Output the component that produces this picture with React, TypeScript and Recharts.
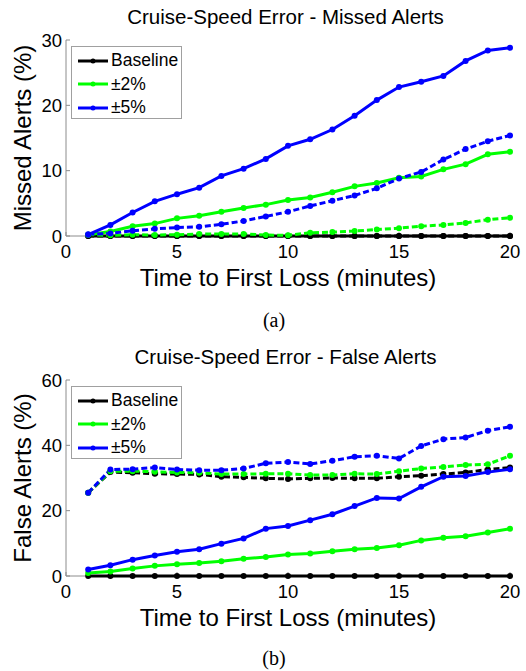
import React from 'react';
import { LineChart, Line, XAxis, YAxis, Legend, ReferenceLine } from 'recharts';

const minutes = [1, 2, 3, 4, 5, 6, 7, 8, 9, 10, 11, 12, 13, 14, 15, 16, 17, 18, 19, 20];

// (a) missed alerts, %
const missedBaseSolid = [0, 0, 0, 0, 0, 0, 0, 0, 0, 0, 0, 0, 0, 0, 0, 0, 0, 0, 0, 0];
const missedBaseDash = [0, 0, 0, 0, 0, 0, 0, 0, 0, 0, 0, 0, 0, 0, 0, 0, 0, 0, 0, 0];
const missed2Solid = [0.2, 0.7, 1.5, 1.9, 2.7, 3.1, 3.7, 4.3, 4.8, 5.5, 5.9, 6.7, 7.6, 8.1, 8.9, 9.1, 10.2, 11.0, 12.5, 12.9];
const missed2Dash = [0.2, 0.1, 0.2, 0.15, 0.2, 0.3, 0.3, 0.3, 0.15, 0.1, 0.5, 0.6, 0.75, 1.0, 1.2, 1.5, 1.7, 2.0, 2.5, 2.8];
const missed5Solid = [0.2, 1.7, 3.6, 5.3, 6.4, 7.4, 9.2, 10.3, 11.8, 13.8, 14.8, 16.3, 18.4, 20.8, 22.8, 23.6, 24.5, 26.8, 28.4, 28.8];
const missed5Dash = [0.25, 0.4, 0.8, 1.1, 1.3, 1.4, 1.8, 2.3, 3.0, 3.7, 4.6, 5.4, 6.2, 7.3, 8.8, 9.8, 11.7, 13.3, 14.5, 15.4];

// (b) false alerts, %
const falseBaseSolid = [0, 0, 0, 0, 0, 0, 0, 0, 0, 0, 0, 0, 0, 0, 0, 0, 0, 0, 0, 0];
const falseBaseDash = [25.5, 31.8, 31.6, 31.3, 31.2, 31.1, 30.4, 30.2, 29.9, 29.7, 29.9, 30.0, 29.9, 29.9, 30.4, 30.7, 31.2, 31.7, 32.6, 33.2];
const false2Solid = [0.9, 1.4, 2.3, 3.1, 3.6, 4.0, 4.5, 5.3, 5.8, 6.6, 6.9, 7.6, 8.2, 8.6, 9.4, 10.9, 11.7, 12.2, 13.3, 14.5];
const false2Dash = [25.5, 32.1, 32.1, 31.9, 31.7, 31.6, 31.2, 31.2, 31.3, 31.3, 30.9, 30.9, 31.3, 31.2, 32.1, 32.9, 33.4, 34.0, 34.2, 36.8];
const false5Solid = [2.0, 3.3, 5.0, 6.3, 7.4, 8.2, 9.9, 11.5, 14.5, 15.3, 17.1, 18.9, 21.4, 23.9, 23.7, 27.3, 30.4, 30.6, 31.8, 32.7];
const false5Dash = [25.5, 32.6, 32.7, 33.2, 32.6, 32.4, 32.4, 32.9, 34.5, 34.9, 34.3, 35.3, 36.5, 36.8, 36.0, 39.8, 41.9, 42.4, 44.5, 45.7];

const xTicks = [0, 5, 10, 15, 20];
const missedTicks = [0, 10, 20, 30];
const falseTicks = [0, 20, 40, 60];

const sans = '"Liberation Sans", Arial, Helvetica, sans-serif';
const BLACK = '#000000';
const GREEN = '#00ff00';
const BLUE = '#0000ff';
const AXIS = '#8c8c8c';

function buildRows(bs: number[], bd: number[], gs: number[], gd: number[], ps: number[], pd: number[]) {
  return minutes.map((t, i) => ({
    t,
    baseSolid: bs[i],
    baseDash: bd[i],
    twoSolid: gs[i],
    twoDash: gd[i],
    fiveSolid: ps[i],
    fiveDash: pd[i],
  }));
}

const missedRows = buildRows(missedBaseSolid, missedBaseDash, missed2Solid, missed2Dash, missed5Solid, missed5Dash);
const falseRows = buildRows(falseBaseSolid, falseBaseDash, false2Solid, false2Dash, false5Solid, false5Dash);

function LegendBox(props: any) {
  const items = (props.payload || []).filter((p: any) => p.type !== 'none');
  return (
    <div
      style={{
        width: 111,
        height: 73,
        border: '1px solid #a0a0a0',
        background: '#fff',
        boxSizing: 'border-box',
        paddingTop: 2,
      }}
    >
      {items.map((p: any) => (
        <div key={p.value} style={{ height: 23.5, display: 'flex', alignItems: 'center' }}>
          <svg width={39} height={10} style={{ flex: 'none' }}>
            <line x1={6} y1={5} x2={36} y2={5} stroke={p.color} strokeWidth={3} />
            <circle cx={21} cy={5} r={2.5} fill={p.color} />
          </svg>
          <span style={{ fontFamily: sans, fontSize: 17.5, color: '#000', lineHeight: 1 }}>{p.value}</span>
        </div>
      ))}
    </div>
  );
}

interface PanelProps {
  rows: any[];
  yTicks: number[];
  yLabel: string;
  top: number;
  height: number;
}

function Panel({ rows, yTicks, yLabel, top, height }: PanelProps) {
  const tickStyle = { fill: '#000', fontSize: 18.5, fontFamily: sans };
  const dot = (c: string) => ({ r: 3, fill: c, stroke: c, strokeWidth: 0 });
  const solid = 3;
  const dash = '6 3';
  return (
    <LineChart
      width={526}
      height={height}
      data={rows}
      margin={{ top, right: 16, bottom: height - top - 196 - 30, left: 0 }}
    >
      <XAxis
        dataKey="t"
        type="number"
        domain={[0, 20]}
        ticks={xTicks}
        height={30}
        axisLine={false}
        stroke={AXIS}
        tickSize={-4}
        tickMargin={13}
        tick={tickStyle}
        label={{
          value: 'Time to First Loss (minutes)',
          position: 'bottom',
          offset: 3,
          style: { fill: '#000', fontSize: 24, fontFamily: sans },
        }}
      />
      <YAxis
        type="number"
        domain={[yTicks[0], yTicks[yTicks.length - 1]]}
        ticks={yTicks}
        width={66}
        stroke={AXIS}
        tickSize={-4}
        tickMargin={8}
        tick={tickStyle}
        label={{
          value: yLabel,
          angle: -90,
          position: 'insideLeft',
          offset: 22,
          style: { fill: '#000', fontSize: 24, fontFamily: sans, textAnchor: 'middle' },
        }}
      />
      <ReferenceLine segment={[{ x: 0, y: 0 }, { x: 1, y: 0 }]} stroke={AXIS} strokeWidth={1} />
      <Legend
        layout="vertical"
        align="center"
        verticalAlign="middle"
        content={<LegendBox />}
        wrapperStyle={{ left: 71, top: top + 6, width: 111, height: 73 }}
      />
      <Line dataKey="baseSolid" name="Baseline" stroke={BLACK} strokeWidth={solid} dot={dot(BLACK)} isAnimationActive={false} />
      <Line dataKey="baseDash" legendType="none" stroke={BLACK} strokeWidth={solid} strokeDasharray={dash} dot={dot(BLACK)} isAnimationActive={false} />
      <Line dataKey="twoSolid" name="±2%" stroke={GREEN} strokeWidth={solid} dot={dot(GREEN)} isAnimationActive={false} />
      <Line dataKey="twoDash" legendType="none" stroke={GREEN} strokeWidth={solid} strokeDasharray={dash} dot={dot(GREEN)} isAnimationActive={false} />
      <Line dataKey="fiveSolid" name="±5%" stroke={BLUE} strokeWidth={solid} dot={dot(BLUE)} isAnimationActive={false} />
      <Line dataKey="fiveDash" legendType="none" stroke={BLUE} strokeWidth={solid} strokeDasharray={dash} dot={dot(BLUE)} isAnimationActive={false} />
    </LineChart>
  );
}

const titleStyle: React.CSSProperties = {
  position: 'absolute',
  left: 0,
  width: 571,
  textAlign: 'center',
  fontFamily: sans,
  fontSize: 20.5,
  color: '#000',
  lineHeight: '22px',
};

const captionStyle: React.CSSProperties = {
  position: 'absolute',
  left: 0,
  width: 548,
  textAlign: 'center',
  fontFamily: '"Liberation Serif", "Times New Roman", serif',
  fontSize: 20,
  color: '#000',
  lineHeight: '22px',
};

export default function App() {
  return (
    <div style={{ position: 'absolute', left: 0, top: 0, width: 526, height: 671, background: '#fff' }}>
      <div style={{ ...titleStyle, top: 6 }}>Cruise-Speed Error - Missed Alerts</div>
      <div style={{ position: 'absolute', left: 0, top: 0 }}>
        <Panel rows={missedRows} yTicks={missedTicks} yLabel="Missed Alerts (%)" top={40} height={335} />
      </div>
      <div style={{ ...captionStyle, top: 309 }}>(a)</div>

      <div style={{ ...titleStyle, top: 346 }}>Cruise-Speed Error - False Alerts</div>
      <div style={{ position: 'absolute', left: 0, top: 335 }}>
        <Panel rows={falseRows} yTicks={falseTicks} yLabel="False Alerts (%)" top={45} height={336} />
      </div>
      <div style={{ ...captionStyle, top: 647 }}>(b)</div>
    </div>
  );
}
